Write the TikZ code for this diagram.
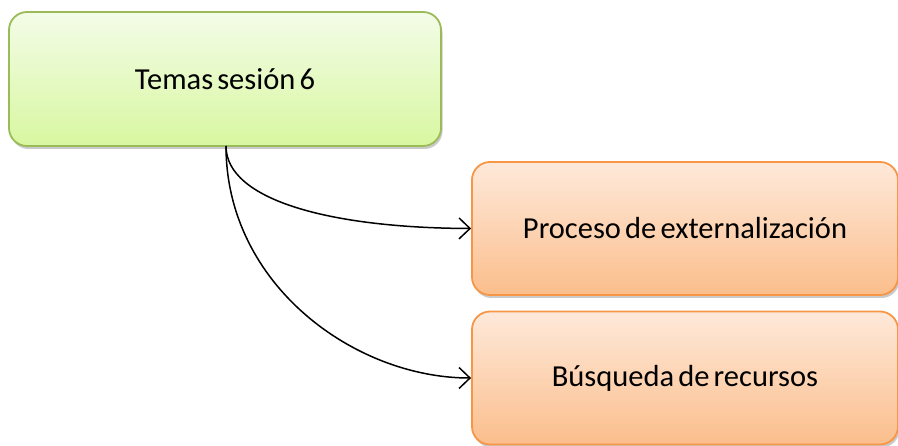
\documentclass[tikz,border=0pt]{standalone}
\usepackage{fontspec}
\setmainfont{Carlito}[WordSpace=0.6]
\usetikzlibrary{arrows.meta,shadows}
\definecolor{gtop}{HTML}{F3FCE8}
\definecolor{gbot}{HTML}{D8F7A0}
\definecolor{gline}{HTML}{9BBB59}
\definecolor{otop}{HTML}{FEE9DA}
\definecolor{obot}{HTML}{FBBE8C}
\definecolor{oline}{HTML}{F79646}
\tikzset{
  box/.style={rectangle, rounded corners=18pt, line width=1.8pt,
    font=\fontsize{30.5}{36}\selectfont, text=black,
    drop shadow={shadow xshift=1.5pt, shadow yshift=-3pt, opacity=0.35, fill=black!60}},
  greenbox/.style={box, draw=gline, top color=gtop, bottom color=gbot,
    minimum width=432pt, minimum height=134pt},
  orangebox/.style={box, draw=oline, top color=otop, bottom color=obot,
    minimum width=426pt, minimum height=133pt},
  conn/.style={draw=black, line width=1.5pt, -{Straight Barb[length=11pt,width=21pt,line width=1.5pt]}}
}
\begin{document}
\begin{tikzpicture}[x=1pt,y=-1pt]
\useasboundingbox (0,0) rectangle (898,446);
\node[greenbox] (t) at (225,79) {Temas sesión 6};
\node[orangebox] (p) at (685,228.5) {Proceso de externalización};
\node[orangebox] (b) at (685,378) {Búsqueda de recursos};
\coordinate (s) at (226,146);
\draw[conn] (s) .. controls (226,200) and (330,228) .. (p.west);
\draw[conn] (s) .. controls (226,285) and (355,378) .. (b.west);
\end{tikzpicture}
\end{document}
